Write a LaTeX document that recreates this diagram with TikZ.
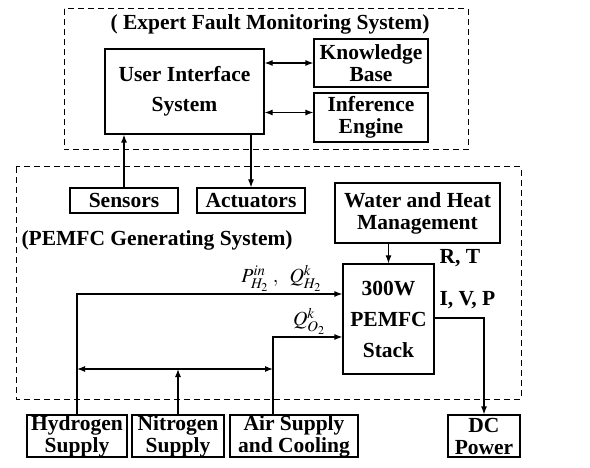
\documentclass[tikz,border=0pt]{standalone}
\usepackage{mathptmx}
\usepackage{fontspec}
\setmainfont{Liberation Serif}
\usetikzlibrary{arrows.meta}

\begin{document}
\begin{tikzpicture}[
  x=1pt, y=-1pt,
  font=\fontsize{21.5}{22}\selectfont\bfseries,
  box/.style={rectangle, draw, line width=1.2pt, align=center, inner sep=0pt},
  frame/.style={draw, line width=1pt, dash pattern=on 6pt off 4pt},
  arrow/.style={-{Latex[length=8pt,width=6pt]}, line width=1.2pt},
  dbl/.style={{Latex[length=8pt,width=6pt]}-{Latex[length=8pt,width=6pt]}, line width=1.2pt},
  sig/.style={font=\fontsize{20}{20}\selectfont, inner sep=1pt}
]
\useasboundingbox (0,0) rectangle (590,468);
\draw[frame] (64,9) rectangle (468,150);
\draw[frame] (16,167) rectangle (521,399);
\node (expert) at (270,24) {( Expert Fault Monitoring System)};
\node[anchor=west] (pemfc) at (18,240) {(PEMFC Generating System)};

\node[box, minimum width=159pt, minimum height=85pt] (uis) at (184.5,91.5) {User Interface\\[8pt]System};
\node[box, minimum width=114pt, minimum height=48pt] (kb) at (371,63) {Knowledge\\Base};
\node[box, minimum width=114pt, minimum height=49pt] (ie) at (371,117.5) {Inference\\Engine};
\node[box, minimum width=108pt, minimum height=25pt] (sens) at (124,200.5) {Sensors};
\node[box, minimum width=108pt, minimum height=25pt] (act) at (251,200.5) {Actuators};
\node[box, minimum width=165pt, minimum height=60pt] (whm) at (417.5,213) {Water and Heat\\Management};
\node[box, minimum width=91pt, minimum height=110pt] (stack) at (388.5,319) {300W\\[9pt]PEMFC\\[9pt]Stack};
\node[anchor=west] (rt) at (436,258) {R, T};
\node[anchor=west] (ivp) at (436,300) {I, V, P};
\node[box, minimum width=100pt, minimum height=42pt] (hyd) at (77,436) {Hydrogen\\Supply};
\node[box, minimum width=92pt, minimum height=42pt] (nit) at (178,436) {Nitrogen\\Supply};
\node[box, minimum width=128pt, minimum height=42pt] (air) at (294,436) {Air Supply\\and Cooling};
\node[box, minimum width=72pt, minimum height=42pt] (dc) at (484,436) {DC\\Power};

\coordinate (h2in) at ([yshift=25pt]stack.west);
\coordinate (o2in) at ([yshift=-18pt]stack.west);
\coordinate (airup) at ([xshift=-21pt]air.north);
\coordinate (hbus) at (hyd.north |- 0,369);
\coordinate (abus) at (airup |- 0,369);

\draw[dbl] (uis.east |- kb.west) -- (kb.west);
\draw[dbl] ([yshift=5pt]ie.west -| uis.east) -- ([yshift=5pt]ie.west);
\draw[arrow] (sens.north) -- (sens.north |- uis.south);
\draw[arrow] (uis.south -| act.north) -- (act.north);
\draw[arrow] (whm.south -| stack.north) -- (stack.north);
\draw[arrow] (hyd.north) |- (h2in) node[sig, pos=0.885, above=1pt] {$P_{H_2}^{in}\;,\;\; Q_{H_2}^{k}$};
\draw[arrow] (airup) |- (o2in) node[sig, pos=0.76, above=1pt] {$Q_{O_2}^{k}$};
\draw[dbl] (hbus) -- (abus);
\draw[arrow] (nit.north) -- (nit.north |- hbus);
\draw[arrow] ([yshift=1pt]stack.east) -| (dc.north);
\end{tikzpicture}
\end{document}
